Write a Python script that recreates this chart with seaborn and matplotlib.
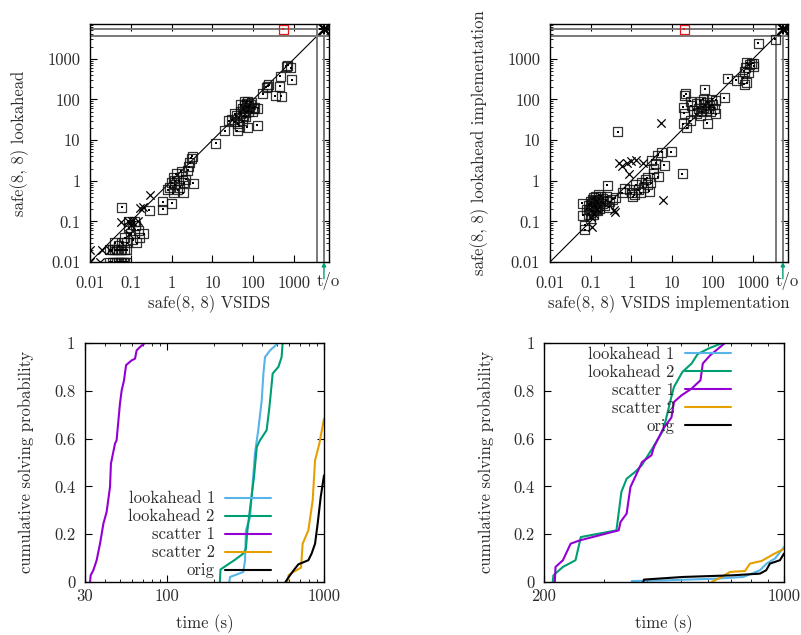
import pandas as pd
import matplotlib
matplotlib.use('Agg')
import matplotlib.pyplot as plt
import matplotlib.ticker as mticker
import seaborn as sns

# runs are cut at T_LIMIT, timed-out runs are drawn at T_OUT ("t/o")
T_LIMIT = 3600
T_OUT = 5400

# --- top left: safe(8,8) VSIDS (x) vs safe(8,8) lookahead (y) ---
vsids_vs_look_sq = [
    (650, 650), (820, 600), (700, 700), (870, 310), (460, 370), (450, 210), (480, 120),
    (350, 125), (225, 210), (240, 230), (170, 140), (210, 200),
    (30, 32), (35, 28), (38, 40), (45, 35), (48, 50), (50, 45), (55, 60), (58, 40),
    (60, 55), (62, 70), (65, 48), (68, 80), (70, 65), (72, 90), (75, 52), (78, 70),
    (80, 60), (85, 75), (55, 30), (42, 25), (65, 38), (90, 85), (100, 60), (110, 65),
    (130, 60), (126, 23), (72, 21), (41, 17), (20, 17), (25, 30), (50, 75), (60, 90),
    (35, 45), (45, 22), (95, 50), (12, 8.3),
    (3, 3.6), (3.2, 4), (2.8, 2.8), (3.4, 0.87), (1.9, 0.5), (1.0, 0.28), (0.61, 0.2),
    (0.6, 0.3), (0.28, 0.19),
    (0.9, 0.7), (1.0, 0.9), (1.1, 1.2), (1.2, 0.8), (1.3, 1.5), (1.5, 1.0), (1.6, 0.7),
    (1.8, 1.3), (2.0, 0.9), (2.2, 1.1), (2.5, 1.8), (1.4, 0.6), (1.7, 1.7), (1.2, 1.0),
    (0.8, 0.6), (2.6, 2.2), (1.1, 0.5),
    (0.06, 0.22), (0.21, 0.049), (0.08, 0.03), (0.1, 0.05), (0.12, 0.1), (0.09, 0.07),
    (0.15, 0.06), (0.11, 0.035), (0.13, 0.08), (0.16, 0.04), (0.07, 0.04), (0.09, 0.1),
    (0.14, 0.03), (0.04, 0.03), (0.05, 0.025), (0.06, 0.03),
    (0.03, 0.02), (0.035, 0.02), (0.04, 0.02), (0.045, 0.02), (0.05, 0.02), (0.055, 0.02),
    (0.06, 0.02), (0.07, 0.02), (0.08, 0.02),
    (0.03, 0.01), (0.035, 0.01), (0.04, 0.01), (0.045, 0.01), (0.05, 0.01), (0.055, 0.01),
    (0.06, 0.01), (0.065, 0.01), (0.07, 0.01), (0.08, 0.01),
]
vsids_vs_look_x = [
    (0.01, 0.01), (0.01, 0.02), (0.018, 0.01), (0.02, 0.02), (0.085, 0.1), (0.1, 0.08),
    (0.17, 0.21), (0.2, 0.22), (0.3, 0.45), (0.09, 0.05), (0.104, 0.1), (0.15, 0.1),
    (0.059, 0.098), (0.03, 0.02), (T_OUT, T_OUT),
]
vsids_vs_look_fail = [(540, T_OUT)]

# --- top right: VSIDS implementation vs lookahead implementation ---
impl_sq = [
    (3500, 3000), (1330, 2450), (1000, 770), (900, 750), (800, 720), (700, 800), (1050, 650),
    (600, 500), (650, 600), (750, 450), (550, 330), (600, 240), (700, 260), (240, 330),
    (380, 300), (195, 110), (120, 95), (65, 180), (20, 125), (22, 140), (19, 65), (20, 46),
    (75, 26), (19, 25), (23, 20), (28, 30),
    (30, 70), (35, 55), (40, 80), (45, 60), (50, 90), (55, 50), (60, 65), (65, 75), (70, 55),
    (75, 85), (80, 60), (85, 70), (90, 50), (95, 100), (100, 75), (110, 60), (120, 45),
    (40, 45), (50, 40), (60, 100), (28, 90),
    (9.6, 5.1), (5.6, 5), (4.5, 4.2), (18, 1.5), (6.5, 2.4), (4.6, 1.25), (3.5, 2), (4, 2.7),
    (3.2, 3.2), (0.46, 16), (0.26, 0.78),
    (1, 0.5), (1.2, 0.45), (1.5, 0.6), (1.8, 0.9), (2, 0.7), (2.2, 1.1), (2.5, 0.8),
    (2.8, 0.55), (3, 0.9), (1.3, 0.8), (1.1, 0.4), (0.9, 0.6), (0.7, 0.65), (0.6, 0.5),
    (2.5, 1.2), (3.5, 1.5), (1.7, 0.5),
    (0.08, 0.2), (0.09, 0.25), (0.1, 0.3), (0.1, 0.18), (0.11, 0.22), (0.11, 0.35),
    (0.12, 0.28), (0.12, 0.15), (0.13, 0.25), (0.13, 0.4), (0.14, 0.2), (0.14, 0.32),
    (0.15, 0.27), (0.15, 0.18), (0.16, 0.35), (0.17, 0.24), (0.18, 0.3), (0.18, 0.42),
    (0.2, 0.28), (0.2, 0.36), (0.22, 0.25), (0.24, 0.33), (0.25, 0.4), (0.09, 0.15),
    (0.1, 0.12), (0.12, 0.38), (0.16, 0.45), (0.3, 0.3), (0.35, 0.35), (0.4, 0.38),
    (0.28, 0.22), (0.095, 0.2), (0.105, 0.27), (0.115, 0.18), (0.125, 0.33), (0.135, 0.23),
    (0.145, 0.29), (0.165, 0.21),
    (0.062, 0.28), (0.072, 0.062), (0.072, 0.08), (0.065, 0.14),
]
impl_x = [
    (5.4, 26), (0.51, 2.66), (0.6, 2.3), (0.8, 2.8), (1.0, 3.0), (1.33, 3.2), (1.95, 2.66),
    (0.89, 1.5), (6.2, 0.33), (0.38, 0.19), (0.108, 0.074), (0.12, 0.15), (0.14, 0.2),
    (0.1, 0.13), (0.41, 0.17), (T_OUT, T_OUT),
]
impl_fail = [(20, T_OUT)]

# --- bottom left: cumulative solving probability ---
bl_look1_t = [249, 252, 277, 306, 314, 318, 338, 351, 363, 381, 401, 411, 421, 453, 512]
bl_look1_p = [0, 0.021, 0.031, 0.042, 0.091, 0.216, 0.272, 0.411, 0.537, 0.635, 0.760, 0.872, 0.941, 0.969, 1.0]
bl_look2_t = [217, 219, 240, 271, 306, 318, 325, 341, 358, 373, 391, 431, 449, 471, 512, 537, 545]
bl_look2_p = [0, 0.052, 0.070, 0.093, 0.119, 0.139, 0.216, 0.328, 0.439, 0.565, 0.593, 0.635, 0.732, 0.872, 0.900, 0.941, 1.0]
bl_scat1_t = [32.3, 32.6, 33.9, 35.6, 37.4, 39.3, 41.2, 43.3, 43.9, 46.6, 47.7, 50.1, 51.4, 53.2, 54.8, 59.4, 62.5, 64.0, 67.2, 72.3]
bl_scat1_p = [0, 0.028, 0.049, 0.091, 0.160, 0.244, 0.293, 0.397, 0.495, 0.579, 0.593, 0.746, 0.802, 0.844, 0.907, 0.927, 0.934, 0.969, 0.983, 1.0]
bl_scat2_t = [583, 595, 638, 714, 731, 795, 847, 877, 934, 1000]
bl_scat2_p = [0, 0.028, 0.042, 0.060, 0.160, 0.216, 0.342, 0.509, 0.579, 0.683]
bl_orig_t = [568, 607, 653, 687, 795, 834, 877, 911, 953, 1000]
bl_orig_p = [0, 0.028, 0.056, 0.074, 0.091, 0.119, 0.160, 0.244, 0.356, 0.446]

# --- bottom right ---
br_look1_t = [360, 455, 637, 761, 851, 890, 941, 1000]
br_look1_p = [0.004, 0.007, 0.014, 0.021, 0.049, 0.077, 0.098, 0.146]
br_look2_t = [212, 213, 227, 247, 256, 325, 336, 348, 368, 385, 416, 445, 471, 478, 506, 538, 560, 601, 662]
br_look2_p = [0, 0.028, 0.063, 0.091, 0.188, 0.216, 0.377, 0.432, 0.460, 0.488, 0.565, 0.635, 0.781, 0.816, 0.879, 0.914, 0.953, 0.976, 1.0]
br_scat1_t = [215, 216, 227, 239, 254, 330, 334, 348, 357, 386, 411, 418, 445, 470, 478, 503, 538, 571, 580, 609, 673]
br_scat1_p = [0, 0.063, 0.091, 0.160, 0.174, 0.216, 0.251, 0.286, 0.397, 0.502, 0.530, 0.565, 0.642, 0.688, 0.753, 0.781, 0.809, 0.844, 0.914, 0.948, 1.0]
br_scat2_t = [615, 658, 696, 770, 796, 861, 931, 1000]
br_scat2_p = [0, 0.021, 0.042, 0.046, 0.077, 0.088, 0.116, 0.139]
br_orig_t = [389, 391, 508, 711, 851, 887, 910, 973, 1000]
br_orig_p = [0, 0.010, 0.021, 0.028, 0.035, 0.049, 0.077, 0.091, 0.119]

series_names = ['lookahead 1', 'lookahead 2', 'scatter 1', 'scatter 2', 'orig']
series_colors = ['#56b4e9', '#009e73', '#9400d3', '#e69f00', 'black']

log_ticks = [0.01, 0.1, 1, 10, 100, 1000]
log_labels = ['0.01', '0.1', '1', '10', '100', '1000']
prob_ticks = [0, 0.2, 0.4, 0.6, 0.8, 1]
prob_labels = ['0', '0.2', '0.4', '0.6', '0.8', '1']

sns.set_style('ticks')
plt.rcParams['font.family'] = ['cmr10', 'DejaVu Serif']
plt.rcParams['mathtext.fontset'] = 'cm'
plt.rcParams['axes.unicode_minus'] = False
plt.rcParams['axes.formatter.use_mathtext'] = True
FS = 12
TXT = '#2b2b2b'


def style_axes(ax, xpad):
    for sp in ax.spines.values():
        sp.set_visible(True)
        sp.set_color('black')
        sp.set_linewidth(1.0)
    ax.tick_params(which='both', direction='in', top=True, right=True, colors='black',
                   labelcolor=TXT, labelsize=FS)
    ax.tick_params(axis='y', pad=7)
    ax.tick_params(axis='x', pad=xpad)
    ax.tick_params(which='major', length=5, width=0.8)
    ax.tick_params(which='minor', length=2.5, width=0.6)


def scatter_panel(ax, squares, crosses, fails, xlabel, ylabel, ylabel_x):
    sq = pd.DataFrame(squares, columns=['x', 'y'])
    cr = pd.DataFrame(crosses, columns=['x', 'y'])
    fl = pd.DataFrame(fails, columns=['x', 'y'])
    ax.set_xscale('log')
    ax.set_yscale('log')
    ax.plot([0.01, 7200], [0.01, 7200], color='black', lw=0.8, zorder=1)
    for v in (T_LIMIT, T_OUT):
        ax.axhline(v, color='#7a7a7a', lw=1.4, zorder=1)
        ax.axvline(v, color='#7a7a7a', lw=1.4, zorder=1)
    sns.scatterplot(data=sq, x='x', y='y', marker='s', s=42, fc='none', ec='#111111',
                    linewidth=0.9, alpha=0.85, ax=ax, zorder=3)
    sns.scatterplot(data=sq, x='x', y='y', marker='s', s=1.5, color='black',
                    linewidth=0, ax=ax, zorder=3)
    sns.scatterplot(data=cr, x='x', y='y', marker='x', s=36, color='black',
                    linewidth=0.9, ax=ax, zorder=3)
    sns.scatterplot(data=fl, x='x', y='y', marker='s', s=42, fc='none', ec='#e41a1c',
                    linewidth=0.9, ax=ax, zorder=4)
    sns.scatterplot(data=fl, x='x', y='y', marker='s', s=1.5, color='#e41a1c',
                    linewidth=0, ax=ax, zorder=4)
    # both timed out
    sns.scatterplot(x=[T_OUT], y=[T_OUT], marker='+', s=60, color='black',
                    linewidth=1.4, ax=ax, zorder=4)
    sns.scatterplot(x=[T_OUT], y=[T_OUT], marker='x', s=60, color='black',
                    linewidth=1.6, ax=ax, zorder=4)
    ax.set_xlim(0.01, 7200)
    ax.set_ylim(0.01, 7200)
    ax.xaxis.set_major_locator(mticker.FixedLocator(log_ticks))
    ax.yaxis.set_major_locator(mticker.FixedLocator(log_ticks))
    ax.set_xticklabels(log_labels)
    ax.set_yticklabels(log_labels)
    ax.xaxis.set_minor_locator(mticker.LogLocator(base=10, subs=range(2, 10)))
    ax.yaxis.set_minor_locator(mticker.LogLocator(base=10, subs=range(2, 10)))
    ax.xaxis.set_minor_formatter(mticker.NullFormatter())
    ax.yaxis.set_minor_formatter(mticker.NullFormatter())
    style_axes(ax, xpad=10)
    ax.annotate('', xy=(T_OUT, 0), xycoords=ax.get_xaxis_transform(),
                xytext=(0, -12), textcoords='offset points',
                arrowprops=dict(arrowstyle='-|>', color='#009e73', lw=1.0,
                                mutation_scale=6, shrinkA=0, shrinkB=0))
    ax.annotate('t/o', xy=(T_OUT, 0), xycoords=ax.get_xaxis_transform(),
                xytext=(3, -7), textcoords='offset points', ha='center', va='top',
                fontsize=FS, color=TXT)
    ax.set_xlabel(xlabel, fontsize=FS, color=TXT)
    ax.set_ylabel(ylabel, fontsize=FS, color=TXT)
    ax.xaxis.set_label_coords(0.5, -0.136)
    ax.yaxis.set_label_coords(ylabel_x, 0.5)


def cdf_panel(ax, times, probs, xlim, xticks, xminor, legend_kw):
    ax.set_xscale('log')
    for t, p, name, col in zip(times, probs, series_names, series_colors):
        df = pd.DataFrame({'time': t, 'prob': p})
        sns.lineplot(data=df, x='time', y='prob', estimator=None, sort=False,
                     color=col, lw=1.5, label=name, ax=ax)
    ax.set_xlim(*xlim)
    ax.set_ylim(0, 1)
    ax.xaxis.set_major_locator(mticker.FixedLocator(xticks))
    ax.set_xticklabels([str(v) for v in xticks])
    ax.xaxis.set_minor_locator(mticker.FixedLocator(xminor))
    ax.xaxis.set_minor_formatter(mticker.NullFormatter())
    ax.set_yticks(prob_ticks)
    ax.set_yticklabels(prob_labels)
    style_axes(ax, xpad=5)
    ax.set_xlabel('time (s)', fontsize=FS, color=TXT)
    ax.set_ylabel('cumulative solving probability', fontsize=FS, color=TXT)
    ax.xaxis.set_label_coords(0.5, -0.136)
    leg = ax.legend(frameon=False, markerfirst=False, fontsize=FS, handlelength=2.8,
                    handletextpad=0.6, labelspacing=0.16, borderpad=0, borderaxespad=0,
                    **legend_kw)
    for txt in leg.get_texts():
        txt.set_color(TXT)


fig = plt.figure(figsize=(8.01, 6.35), dpi=100)
ax_tl = fig.add_axes([0.1124, 0.5874, 0.2984, 0.3748])
ax_tr = fig.add_axes([0.6866, 0.5874, 0.2971, 0.3748])
ax_bl = fig.add_axes([0.1061, 0.0835, 0.2984, 0.3764])
ax_br = fig.add_axes([0.6792, 0.0835, 0.2996, 0.3764])

scatter_panel(ax_tl, vsids_vs_look_sq, vsids_vs_look_x, vsids_vs_look_fail,
              'safe(8, 8) VSIDS', 'safe(8, 8) lookahead', -0.255)
scatter_panel(ax_tr, impl_sq, impl_x, impl_fail,
              'safe(8, 8) VSIDS implementation', 'safe(8, 8) lookahead implementation', -0.257)

cdf_panel(ax_bl,
          [bl_look1_t, bl_look2_t, bl_scat1_t, bl_scat2_t, bl_orig_t],
          [bl_look1_p, bl_look2_p, bl_scat1_p, bl_scat2_p, bl_orig_p],
          (30, 1000), [30, 100, 1000],
          [40, 50, 60, 70, 80, 90, 200, 300, 400, 500, 600, 700, 800, 900],
          dict(loc='lower right', bbox_to_anchor=(0.78, 0.015)))
ax_bl.yaxis.set_label_coords(-0.214, 0.5)

cdf_panel(ax_br,
          [br_look1_t, br_look2_t, br_scat1_t, br_scat2_t, br_orig_t],
          [br_look1_p, br_look2_p, br_scat1_p, br_scat2_p, br_orig_p],
          (200, 1000), [200, 1000],
          [300, 400, 500, 600, 700, 800, 900],
          dict(loc='upper right', bbox_to_anchor=(0.78, 0.985)))
ax_br.yaxis.set_label_coords(-0.21, 0.5)

fig.savefig('out.png', dpi=100)
